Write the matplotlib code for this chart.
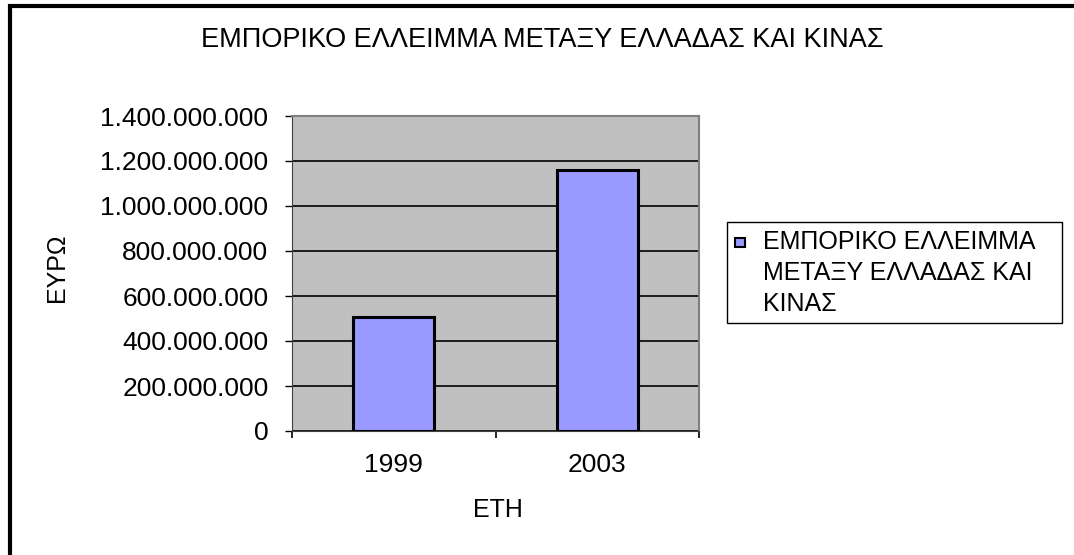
import matplotlib.pyplot as plt
from matplotlib.ticker import FuncFormatter, MultipleLocator
from matplotlib.patches import Rectangle

plt.rcParams['font.family'] = ['Liberation Sans', 'DejaVu Sans']

# data
years = ['1999', '2003']
deficit = [508000000, 1160000000]
series_name = 'ΕΜΠΟΡΙΚΟ ΕΛΛΕΙΜΜΑ\nΜΕΤΑΞΥ ΕΛΛΑΔΑΣ ΚΑΙ\nΚΙΝΑΣ'
title = 'ΕΜΠΟΡΙΚΟ ΕΛΛΕΙΜΜΑ ΜΕΤΑΞΥ ΕΛΛΑΔΑΣ ΚΑΙ ΚΙΝΑΣ'

W, H = 1074, 555
fig = plt.figure(figsize=(W/100, H/100), dpi=100)
ax = fig.add_axes([292/W, 1-431/H, (699-292)/W, (431-116)/H])

# outer chart border (only left and top visible)
fig.patches.append(Rectangle((9.5/W, -0.1), 1.2, 1.1 - 6/H, transform=fig.transFigure,
                             fill=False, edgecolor='black', linewidth=3, zorder=0))

x = range(len(years))
bars = ax.bar(x, deficit, width=0.4, color='#9999FF', edgecolor='black', linewidth=2.2, zorder=3)

ax.set_facecolor('#C0C0C0')
ax.set_xlim(-0.5, 1.5)
ax.set_ylim(0, 1400000000)
ax.yaxis.set_major_locator(MultipleLocator(200000000))
ax.yaxis.set_major_formatter(FuncFormatter(lambda v, p: f'{int(v):,}'.replace(',', '.')))
ax.grid(axis='y', color='black', linewidth=1.2, zorder=1)
ax.set_axisbelow(True)

ax.set_xticks(x)
ax.set_xticklabels(years)
ax.set_xticks([-0.5, 0.5, 1.5], minor=True)
ax.tick_params(axis='x', which='major', length=0, pad=16, labelsize=19)
ax.tick_params(axis='x', which='minor', length=5, width=1.2, direction='out')
ax.tick_params(axis='y', length=5, width=1, direction='out', pad=12, labelsize=19)

for s in ['top', 'right']:
    ax.spines[s].set_color('#808080')
    ax.spines[s].set_linewidth(1.5)
ax.spines['left'].set_color('#404040')
ax.spines['bottom'].set_color('#404040')

ax.set_xlabel('ΕΤΗ', fontsize=18)
ax.xaxis.set_label_coords(498/W, 1-510/H, transform=fig.transFigure)
ax.xaxis.label.set_va('center')
ax.set_ylabel('ΕΥΡΩ', fontsize=18)
ax.yaxis.set_label_coords(57/W, 1-268/H, transform=fig.transFigure)
ax.yaxis.label.set_va('center')
fig.text(542/W, 1-40/H, title, ha='center', va='center', fontsize=19.5)

# legend box drawn like the original (marker beside first line)
fig.patches.append(Rectangle((727/W, 1-323/H), (1062-727)/W, (323-222)/H, transform=fig.transFigure,
                             fill=True, facecolor='white', edgecolor='black', linewidth=1))
fig.patches.append(Rectangle((735/W, 1-247/H), 10/W, 9/H, transform=fig.transFigure,
                             facecolor=bars[0].get_facecolor(), edgecolor='black', linewidth=1.5))
fig.text(763/W, 1-230/H, series_name, ha='left', va='top', fontsize=18, linespacing=1.38)

fig.savefig('out.png', dpi=100)
